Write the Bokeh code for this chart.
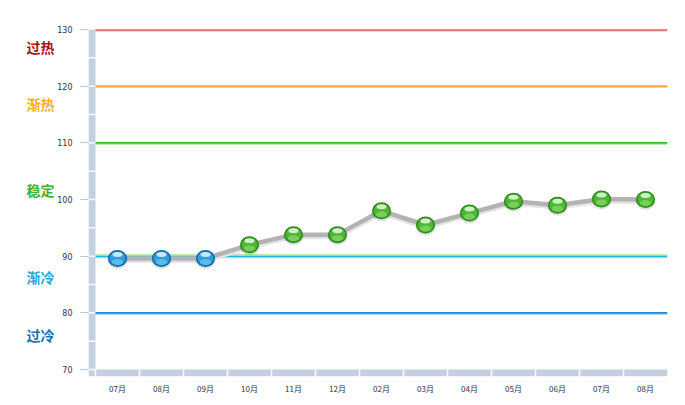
from bokeh.plotting import figure
from bokeh.models import Range1d, FixedTicker, ColumnDataSource
from bokeh.layouts import row
from bokeh.core.properties import value
from bokeh.embed import file_html
from bokeh.resources import INLINE

# ---- data ----
months = ["07月", "08月", "09月", "10月", "11月", "12月", "02月", "03月", "04月", "05月", "06月", "07月", "08月"]
values = [89.6, 89.6, 89.6, 92.0, 93.8, 93.8, 98.0, 95.5, 97.6, 99.7, 99.0, 100.1, 100.0]
y_ticks = [70, 80, 90, 100, 110, 120, 130]
band_levels = [130, 120, 110, 90, 80]
band_dark = ["#c0141c", "#f2a93b", "#3cbf2e", "#20b4e4", "#2a86d6"]
band_light = ["#f4a0a0", "#f9d59a", "#a8e6a0", "#a6e8a6", "#9cc8ee"]
zone_names = ["过热", "渐热", "稳定", "渐冷", "过冷"]
zone_pos = [127, 116.8, 101.7, 86.3, 76.1]
zone_colors = ["#b20c0c", "#f4b418", "#44b030", "#2aa6dc", "#1a70b4"]
cold_limit = 90

H = 396
TOP = 29
BOTTOM = 19
FRAME_H = H - TOP - BOTTOM
PX_X = 44.0

n = len(months)
xs = list(range(n))
x_lo = -0.5
x_hi = n - 0.5
ymin, ymax = y_ticks[0], y_ticks[-1]
PX_Y = (FRAME_H - 7) / (ymax - ymin)
wall = 7 / PX_X
floor = 7 / PX_Y

# ---- main chart ----
p = figure(width=622, height=H,
           x_range=Range1d(x_lo - wall, x_hi), y_range=Range1d(ymin - floor, ymax),
           output_backend="svg", toolbar_location=None,
           min_border_left=34, min_border_right=9, min_border_top=TOP, min_border_bottom=BOTTOM)
p.outline_line_color = None
p.xgrid.visible = False
p.ygrid.visible = False

# ---- left strip with zone names (shares the y scale) ----
LW = 54
left = figure(width=LW, height=H, x_range=Range1d(0, LW), y_range=p.y_range,
              output_backend="svg", toolbar_location=None,
              x_axis_location=None, y_axis_location=None,
              min_border_left=0, min_border_right=0, min_border_top=TOP, min_border_bottom=BOTTOM)
left.outline_line_color = None
left.xgrid.visible = False
left.ygrid.visible = False
left.text(x=[40] * len(zone_names), y=zone_pos, text=zone_names, text_color=zone_colors,
          text_align="center", text_baseline="middle",
          text_font=value("Noto Sans CJK SC"), text_font_size="14px", text_font_style="bold")

# 3D wall and floor
bar_col = "#c2d0df"
p.quad(left=x_lo - wall, right=x_lo, bottom=ymin - floor, top=ymax, fill_color=bar_col, line_color=None)
p.quad(left=x_lo, right=x_hi, bottom=ymin - floor, top=ymin, fill_color=bar_col, line_color=None)
minor = [ymin + 5 * k for k in range(int((ymax - ymin) / 5))]
p.segment(x0=[x_lo - wall] * len(minor), x1=[x_lo] * len(minor), y0=minor, y1=minor,
          line_color="white", line_width=1.5)
seps = [x_lo + k for k in range(n)]
p.segment(x0=seps, x1=seps, y0=[ymin - floor] * len(seps), y1=[ymin] * len(seps),
          line_color="white", line_width=1.5)

# threshold lines
off = 1.2 / PX_Y
nb = len(band_levels)
p.segment(x0=[x_lo] * nb, x1=[x_hi] * nb, y0=[v - off for v in band_levels], y1=[v - off for v in band_levels],
          line_color=band_light, line_width=1.5)
p.segment(x0=[x_lo] * nb, x1=[x_hi] * nb, y0=band_levels, y1=band_levels,
          line_color=band_dark, line_width=1.6)
p.segment(x0=[x_lo], x1=[x_hi], y0=[cold_limit + off], y1=[cold_limit + off], line_color="#9fe3a0", line_width=1.5)

# data line with shadow
p.line(xs, [v - 2 / PX_Y for v in values], line_color="#e4e4e4", line_width=5)
p.line(xs, values, line_color="#b3b3b3", line_width=4.5)

dark = ["#0b6ba8" if v <= cold_limit else "#2c8a1c" for v in values]
mid = ["#2c9ede" if v <= cold_limit else "#4cb832" for v in values]
light = ["#72c8f2" if v <= cold_limit else "#8ad86a" for v in values]
src = ColumnDataSource(dict(x=xs, y=values, dark=dark, mid=mid, light=light,
                            yhi=[v + 4 / PX_Y for v in values],
                            ylo=[v - 3.5 / PX_Y for v in values],
                            yshadow=[v - 1.5 / PX_Y for v in values]))
p.ellipse(x="x", y="yshadow", width=20, height=18, width_units="screen", height_units="screen",
          fill_color="#000000", fill_alpha=0.12, line_color=None, source=src)
p.ellipse(x="x", y="y", width=19, height=17, width_units="screen", height_units="screen",
          fill_color="dark", line_color=None, source=src)
p.ellipse(x="x", y="y", width=16, height=14, width_units="screen", height_units="screen",
          fill_color="mid", line_color=None, source=src)
p.ellipse(x="x", y="ylo", width=11, height=6, width_units="screen", height_units="screen",
          fill_color="light", fill_alpha=0.7, line_color=None, source=src)
p.ellipse(x="x", y="yhi", width=10, height=5, width_units="screen", height_units="screen",
          fill_color="white", fill_alpha=0.75, line_color=None, source=src)

# axes
p.yaxis.ticker = FixedTicker(ticks=y_ticks)
p.yaxis.axis_line_color = None
p.yaxis.major_tick_line_color = "#b8c4d0"
p.yaxis.major_tick_out = 8
p.yaxis.major_tick_in = 0
p.yaxis.minor_tick_line_color = None
p.yaxis.minor_tick_out = 0
p.yaxis.major_label_standoff = 8
p.yaxis.major_label_text_font = "DejaVu Sans"
p.yaxis.major_label_text_font_size = "8px"
p.yaxis.major_label_text_color = "#333333"

p.xaxis.ticker = FixedTicker(ticks=xs)
p.xaxis.major_label_overrides = {i: m for i, m in enumerate(months)}
p.xaxis.axis_line_color = None
p.xaxis.major_tick_line_color = None
p.xaxis.major_tick_out = 0
p.xaxis.major_tick_in = 0
p.xaxis.minor_tick_line_color = None
p.xaxis.minor_tick_out = 0
p.xaxis.major_label_standoff = 6
p.xaxis.major_label_text_font = "Noto Sans CJK SC"
p.xaxis.major_label_text_font_size = "8px"
p.xaxis.major_label_text_color = "#333333"

layout = row(left, p)
layout.spacing = 0
open("out.html", "w").write(file_html(layout, INLINE))
